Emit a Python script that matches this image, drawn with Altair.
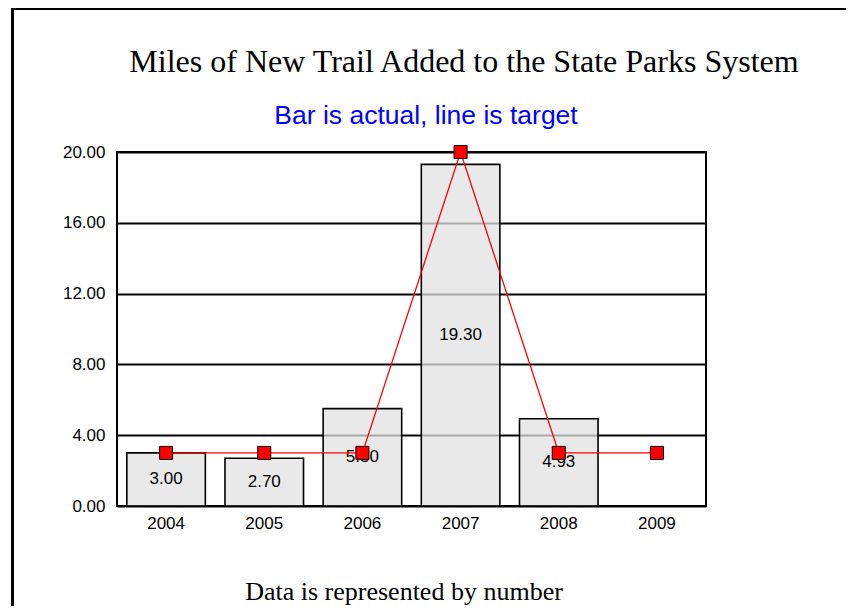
import altair as alt
import pandas as pd

years = ["2004", "2005", "2006", "2007", "2008", "2009"]
actual = [3.00, 2.70, 5.50, 19.30, 4.93, None]
target = [3.0, 3.0, 3.0, 20.0, 3.0, 3.0]
y_ticks = [0, 4, 8, 12, 16, 20]

title_text = "Miles of New Trail Added to the State Parks System"
subtitle_text = "Bar is actual, line is target"
footer_text = "Data is represented by number"

df = pd.DataFrame({"year": years, "actual": actual, "target": target})
bar_df = df.dropna(subset=["actual"])

W, H = 589, 354

x_enc = alt.X("year:N", sort=years, title=None,
              scale=alt.Scale(paddingInner=0.2, paddingOuter=0.1),
              axis=alt.Axis(labelAngle=0, ticks=False, domain=False, grid=False,
                            labelFont="Liberation Sans", labelFontSize=17,
                            labelColor="black", labelPadding=9))
y_scale = alt.Scale(domain=[0, 20], nice=False)
y_axis = alt.Axis(values=y_ticks, format=".2f", ticks=False, domain=False,
                  grid=True, gridColor="black", gridWidth=1.8,
                  labelFont="Liberation Sans", labelFontSize=17,
                  labelColor="black", labelPadding=12)

bars = alt.Chart(bar_df).mark_bar(
    fill="#e2e2e2", fillOpacity=0.75, stroke="black", strokeWidth=1.6
).encode(
    x=x_enc,
    y=alt.Y("actual:Q", scale=y_scale, axis=y_axis, title=None),
)

labels = alt.Chart(bar_df).transform_calculate(
    mid="datum.actual / 2"
).mark_text(font="Liberation Sans", fontSize=17, color="black").encode(
    x=alt.X("year:N", sort=years),
    y=alt.Y("mid:Q", scale=y_scale),
    text=alt.Text("actual:Q", format=".2f"),
)

line = alt.Chart(df).mark_line(color="#ff0000", strokeWidth=1.3).encode(
    x=alt.X("year:N", sort=years),
    y=alt.Y("target:Q", scale=y_scale),
)
pts = alt.Chart(df).mark_point(
    shape="square", size=170, filled=True, fill="#ff0000",
    stroke="black", strokeWidth=1, opacity=1
).encode(
    x=alt.X("year:N", sort=years),
    y=alt.Y("target:Q", scale=y_scale),
)

deco = pd.DataFrame({"k": [0]})
title_mark = alt.Chart(deco).mark_text(
    text=title_text, font="Liberation Serif", fontSize=32, color="black",
    align="center", baseline="middle"
).encode(x=alt.value(347), y=alt.value(-90))
subtitle_mark = alt.Chart(deco).mark_text(
    text=subtitle_text, font="Liberation Sans", fontSize=26.5, color="#0000ff",
    align="center", baseline="middle"
).encode(x=alt.value(309), y=alt.value(-36))
footer_mark = alt.Chart(deco).mark_text(
    text=footer_text, font="Liberation Serif", fontSize=26, color="black",
    align="center", baseline="middle"
).encode(x=alt.value(287), y=alt.value(440))
left_border = alt.Chart(deco).mark_rule(color="black", strokeWidth=3).encode(
    x=alt.value(-104.5), y=alt.value(-146), y2=alt.value(470))
top_border = alt.Chart(deco).mark_rule(color="black", strokeWidth=3).encode(
    x=alt.value(-106), x2=alt.value(760), y=alt.value(-143.5))

chart = alt.layer(
    bars, labels, line, pts, title_mark, subtitle_mark, footer_mark,
    left_border, top_border
).properties(
    width=W, height=H,
    autosize=alt.AutoSizeParams(type="none"),
    padding={"left": 109, "top": 144, "right": 140, "bottom": 100},
).configure(
    background="white"
).configure_view(
    stroke="black", strokeWidth=2
)

chart.save("out.html", embed_options={"renderer": "svg", "actions": False})
